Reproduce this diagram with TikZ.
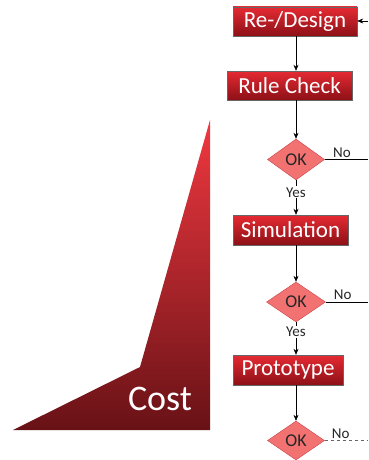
\documentclass[tikz,border=0pt]{standalone}
\usepackage{fontspec}
\setmainfont{Carlito}
\usetikzlibrary{shapes.geometric,arrows.meta}
\definecolor{costtop}{HTML}{F03840}
\definecolor{costbot}{HTML}{681216}
\definecolor{boxtop}{HTML}{E62A33}
\definecolor{boxbot}{HTML}{8C1016}
\definecolor{okfill}{HTML}{F27272}
\definecolor{okline}{HTML}{C84048}
\tikzset{
  stepbox/.style={draw=black!60, top color=boxtop, bottom color=boxbot, text=white,
    font=\fontsize{23}{25}\selectfont, inner sep=0pt, minimum height=29pt},
  okdia/.style={diamond, draw=okline, fill=okfill, inner sep=0pt, aspect=1.4,
    minimum width=57pt, minimum height=41pt, font=\fontsize{18}{20}\selectfont, text=black!85},
  lbl/.style={font=\fontsize{15}{17}\selectfont, text=black!85, inner sep=1pt},
  flow/.style={-{Stealth[length=6pt,width=5pt]}, black, semithick}
}
\begin{document}
\begin{tikzpicture}[x=1pt,y=-1pt]
\useasboundingbox (0,0) rectangle (368,460);
% cost wedge
\shade[top color=costtop, bottom color=costbot] (210,120) -- (140,367) -- (13,430) -- (210,430) -- cycle;
\node[text=white, font=\fontsize{36}{38}\selectfont] (cost) at (160,399) {Cost};
% steps
\node[stepbox, minimum width=124pt] (design) at (295,21.5) {Re-/Design};
\node[stepbox, minimum width=125pt] (rule) at (289.5,85.5) {Rule Check};
\node[okdia] (ok1) at (296,159.5) {OK};
\node[stepbox, minimum width=115pt, minimum height=30pt] (sim) at (290.5,230) {Simulation};
\node[okdia, minimum width=59pt, minimum height=40pt] (ok2) at (296,302) {OK};
\node[stepbox, minimum width=110pt, minimum height=30pt] (proto) at (288,370) {Prototype};
\node[okdia, minimum height=39pt] (ok3) at (296,440.5) {OK};
% free ends
\coordinate (back) at (368,21);
\coordinate (no1) at (368,159.5);
\coordinate (no2) at (368,302);
\coordinate (no3) at (368,440.5);
% connectors
\draw[flow] (back) -- (design.east |- back);
\draw[flow] (design.south -| ok1.north) -- (rule.north -| ok1.north);
\draw[flow] (rule.south -| ok1.north) -- (ok1.north);
\draw[flow] (ok1.south) -- node[lbl, fill=white, pos=0.35] {Yes} (sim.north -| ok1.south);
\draw[flow] (sim.south -| ok2.north) -- (ok2.north);
\draw[flow] (ok2.south) -- node[lbl, fill=white, pos=0.3] {Yes} (proto.north -| ok2.south);
\draw[flow] (proto.south -| ok3.north) -- (ok3.north);
\draw[black, semithick] (ok1.east) -- node[lbl, above=1pt, pos=0.4] {No} (no1);
\draw[black, semithick] (ok2.east) -- node[lbl, above=1pt, pos=0.4] {No} (no2);
\draw[black!60, semithick, dashed] (ok3.east) -- node[lbl, above=1pt, pos=0.37] {No} (no3);
\end{tikzpicture}
\end{document}
